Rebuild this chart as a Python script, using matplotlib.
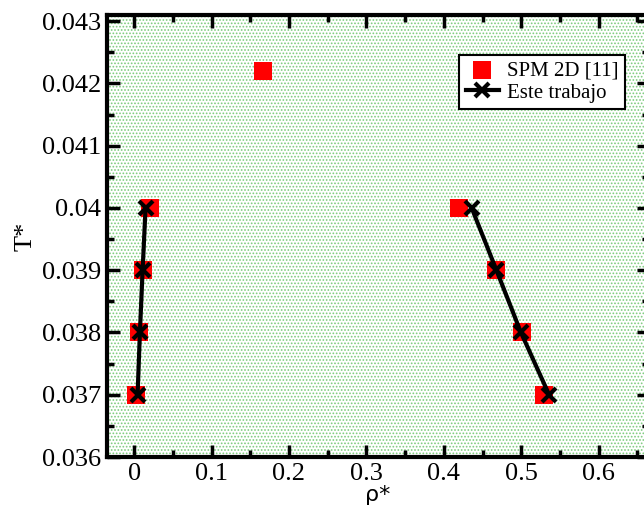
import matplotlib
matplotlib.use('Agg')
import matplotlib.pyplot as plt
from matplotlib.patches import Rectangle
from matplotlib.ticker import MultipleLocator

# SPM 2D [11] reference points
spm_rho = [0.003, 0.006, 0.011, 0.021, 0.167, 0.419, 0.467, 0.501, 0.529]
spm_t = [0.037, 0.038, 0.039, 0.040, 0.0422, 0.040, 0.039, 0.038, 0.037]

# this work: low density branch and high density branch
branch_t = [0.037, 0.038, 0.039, 0.040]
low_rho = [0.0045, 0.0075, 0.011, 0.0148]
high_rho = [0.536, 0.4996, 0.468, 0.436]

plt.rcParams['hatch.linewidth'] = 0.8

fig = plt.figure(figsize=(6.44, 5.08), dpi=100)
ax = fig.add_axes([107/644, 51/508, 542/644, 442/508])

# dotted green background
bg = Rectangle((0, 0), 1, 1, transform=ax.transAxes, facecolor='white',
               edgecolor='#7ccc7c', hatch='.....', linewidth=0, zorder=0)
ax.add_patch(bg)

ax.scatter(spm_rho, spm_t, marker='s', s=12.5**2, color='red', linewidths=0,
           label='SPM 2D [11]', zorder=2)
ax.plot(low_rho, branch_t, color='black', lw=3, marker='x', ms=10, mew=3,
        label='Este trabajo', zorder=3)
ax.plot(high_rho, branch_t, color='black', lw=3, marker='x', ms=10, mew=3, zorder=3)

ax.set_xlim(-0.035, 0.665)
ax.set_ylim(0.036, 0.0431)
ax.xaxis.set_minor_locator(MultipleLocator(0.05))
ax.yaxis.set_minor_locator(MultipleLocator(0.0005))

serif = 'Liberation Serif'
xt = [0, 0.1, 0.2, 0.3, 0.4, 0.5, 0.6]
ax.set_xticks(xt)
ax.set_xticklabels(['0', '0.1', '0.2', '0.3', '0.4', '0.5', '0.6'],
                   fontfamily=serif, fontsize=19)
yt = [0.036, 0.037, 0.038, 0.039, 0.040, 0.041, 0.042, 0.043]
ax.set_yticks(yt)
ax.set_yticklabels(['0.036', '0.037', '0.038', '0.039', '0.04', '0.041', '0.042', '0.043'],
                   fontfamily=serif, fontsize=19)

ax.tick_params(which='both', direction='in', top=True, right=True, width=2.5)
ax.tick_params(which='major', length=9, pad=4)
ax.tick_params(which='minor', length=5)
for sp in ax.spines.values():
    sp.set_linewidth(3)

ax.set_xlabel('ρ*', fontsize=16, labelpad=0)
ax.set_ylabel('T*', fontfamily=serif, fontsize=19, labelpad=4)

leg = ax.legend(loc='upper right', bbox_to_anchor=(1 - 24/542, 1 - 40/442),
                borderaxespad=0, prop={'family': serif, 'size': 15},
                fancybox=False, edgecolor='black', framealpha=1,
                handlelength=1.6, handletextpad=0.4, borderpad=0.3,
                labelspacing=0.1, scatterpoints=1)
leg.get_frame().set_linewidth(1.5)

plt.savefig('out.png', dpi=100)
